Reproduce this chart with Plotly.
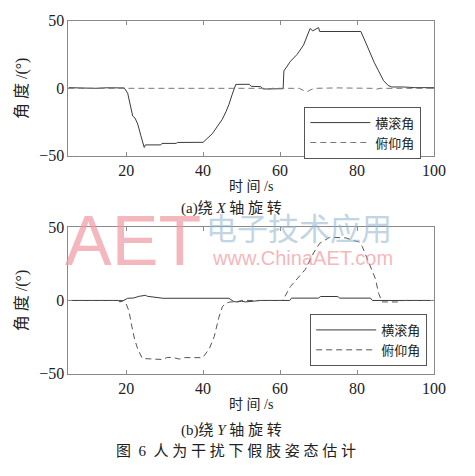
import plotly.graph_objects as go

# ---------------- data ----------------
# (a) rotation about X
t_roll_a = [5, 8, 10, 12, 15, 17, 19.5, 20.4, 21.0, 21.7, 22.3, 23.0, 23.8, 24.7, 25.0, 29.0, 29.3,
            33.0, 33.3, 40.0, 42.4, 43.5, 45.0, 46.0, 46.7, 47.5, 48.5, 52.0, 52.5, 55.0, 55.6, 60.8,
            61.0, 62.7, 64.4, 66.1, 67.4, 67.8, 68.5, 69.2, 70.0, 70.3, 81.0, 82.2, 83.9, 84.5, 85.6,
            86.9, 88.1, 89.0, 92.0, 95.0, 100]
roll_a = [0.5, 0.3, 0.5, 0.0, 0.4, 0.2, 0.3, -3.6, -12.0, -20.5, -22.0, -26.4, -34.8, -43.8, -41.9, -41.9, -40.8,
          -40.8, -40.1, -40.0, -33.6, -29.0, -22.9, -17.0, -12.1, -5.0, 2.9, 3.0, 1.5, 1.2, -0.5, -0.3,
          12.9, 20.0, 25.0, 32.0, 41.4, 44.3, 42.6, 43.5, 45.0, 42.1, 42.1, 34.3, 22.4, 19.0, 12.9,
          5.7, 2.1, 1.0, 1.0, 0.5, 0.5]

t_pitch_a = [5, 20, 40, 50, 56, 57, 58, 60, 65, 66, 67, 68, 69, 75, 84, 85, 86, 90, 100]
pitch_a = [0, 0, 0, 0, 0, -0.7, 0, 0, 0, -1.5, -2.6, -1.0, 0, 0.3, 0, -0.7, 0, 0, 0]

# (b) rotation about Y
t_roll_b = [5, 18, 18.3, 19, 20.4, 22, 23.3, 25, 25.6, 26.5, 29.6, 46.7, 47.5, 48, 49, 50, 51, 55,
            62.5, 63, 70, 70.5, 75, 75.5, 83.5, 84, 100]
roll_b = [0, 0, -1.0, -0.5, 1.5, 1.7, 2.8, 3.5, 2.8, 2.6, 1.5, 1.5, 0, -0.8, -1.0, -0.5, -1.0, 0,
          0, 1.6, 1.6, 2.7, 2.7, 1.6, 1.6, 0, 0]

t_pitch_b = [5, 19.5, 20, 20.7, 21.5, 22.2, 23, 24.2, 29.6, 30.5, 32, 33.8, 35, 39.9, 41.6, 42.9, 44.1,
             45, 45.8, 47, 48.6, 50, 60.5, 61, 62.7, 64.4, 66.6, 68.7, 70.3, 72.9, 77.1, 78.8, 80.5,
             81.4, 83.1, 84.8, 85.6, 86, 86.5, 90.6, 92, 100]
pitch_b = [0, 0, -2.3, -7.0, -18.0, -26.5, -33.0, -39.6, -40.3, -39.0, -38.8, -40.0, -39.0, -39.0, -33.0,
           -24.6, -11.5, -4.3, -2.0, -1.0, -1.0, 0, 0, 1.6, 9.5, 14.7, 21.3, 32.4, 39.0, 43.1, 42.7,
           41.0, 40.0, 36.6, 26.0, 14.7, 4.9, 1.6, -1.0, -1.0, 0, 0]

x_ticks = [20, 40, 60, 80, 100]
y_ticks = [-50, 0, 50]
name_roll = "横滚角"
name_pitch = "俯仰角"

# ---------------- style ----------------
W, H = 475, 476
OFF = 8  # page body margin offsets the figure by 8 px in the photographed page
SERIF = "Liberation Serif, Times New Roman, serif"
CJK = "Liberation Serif, Noto Sans CJK SC, serif"
SOLID = "#3a3a3a"
DASHC = "#777777"
AXC = "#8a8a8a"
NB = "\u00a0"

def px_x(p):
    return (p - OFF) / W

def px_y(p):
    return 1 - (p - OFF) / H

fig = go.Figure()
fig.add_trace(go.Scatter(x=t_roll_a, y=roll_a, mode="lines", name=name_roll,
                         line=dict(color=SOLID, width=1), xaxis="x", yaxis="y", legend="legend"))
fig.add_trace(go.Scatter(x=t_pitch_a, y=pitch_a, mode="lines", name=name_pitch,
                         line=dict(color=DASHC, width=1, dash="6px,4px"), xaxis="x", yaxis="y",
                         legend="legend"))
fig.add_trace(go.Scatter(x=t_roll_b, y=roll_b, mode="lines", name=name_roll,
                         line=dict(color=SOLID, width=1), xaxis="x2", yaxis="y2", legend="legend2"))
fig.add_trace(go.Scatter(x=t_pitch_b, y=pitch_b, mode="lines", name=name_pitch,
                         line=dict(color="#555555", width=1, dash="6px,4px"), xaxis="x2", yaxis="y2",
                         legend="legend2"))

axis_common = dict(
    showgrid=False, zeroline=False, showline=True, linecolor=AXC, linewidth=1, mirror="ticks",
    ticks="inside", ticklen=4, tickcolor=AXC, tickfont=dict(family=SERIF, size=16, color="#222"),
)
ylab = "角" + NB + "度" + NB + "/(°)"
xlab = "时" + NB + "间" + NB + "/s"
xdom = [px_x(70), px_x(445)]
fig.update_layout(
    width=W, height=H, margin=dict(l=0, r=0, t=0, b=0),
    paper_bgcolor="white", plot_bgcolor="white",
    xaxis=dict(domain=xdom, range=[5, 100], tickvals=x_ticks, anchor="y",
               title=dict(text=xlab, font=dict(family=CJK, size=14, color="#222"), standoff=2),
               **axis_common),
    yaxis=dict(domain=[px_y(153), px_y(13)], range=[-50, 50], tickvals=y_ticks, anchor="x",
               title=dict(text=ylab, font=dict(family=CJK, size=16, color="#222"), standoff=7),
               **axis_common),
    xaxis2=dict(domain=xdom, range=[5, 100], tickvals=x_ticks, anchor="y2",
                title=dict(text=xlab, font=dict(family=CJK, size=14, color="#222"), standoff=2),
                **axis_common),
    yaxis2=dict(domain=[px_y(379), px_y(227)], range=[-50, 50], tickvals=y_ticks, anchor="x2",
                title=dict(text=ylab, font=dict(family=CJK, size=16, color="#222"), standoff=7),
                **axis_common),
    legend=dict(x=px_x(312), y=px_y(102), xanchor="left", yanchor="top",
                bordercolor="#555", borderwidth=1, bgcolor="white", itemwidth=60,
                font=dict(family=CJK, size=13, color="#222"), tracegroupgap=0),
    legend2=dict(x=px_x(318), y=px_y(317), xanchor="left", yanchor="top",
                 bordercolor="#555", borderwidth=1, bgcolor="white", itemwidth=60,
                 font=dict(family=CJK, size=13, color="#222"), tracegroupgap=0),
    showlegend=True,
)

def note(text, x, y, size, family=CJK, color="#222", opacity=1.0):
    fig.add_annotation(text=text, x=px_x(x), y=px_y(y), xref="paper", yref="paper",
                       xanchor="center", yanchor="middle", showarrow=False, opacity=opacity,
                       font=dict(family=family, size=size, color=color))

# watermark (behind captions)
note("AET", 136, 241, 70, family="Liberation Sans, Arial", color="#f29aa3", opacity=0.7)
note("电子技术应用", 307, 226, 31, family="Noto Sans CJK SC", color="#8fb3d0", opacity=0.55)
note("www.ChinaAET.com", 310, 259, 20, family="Liberation Sans, Arial", color="#f08890", opacity=0.6)

# captions
note("(a)绕" + NB + "<i>X</i>" + NB + "轴" + NB + "旋" + NB + "转", 237, 208, 15)
note("(b)绕" + NB + "<i>Y</i>" + NB + "轴" + NB + "旋" + NB + "转", 237, 438, 15)
note(NB.join(["图", NB + "6", NB + "人", "为", "干", "扰", "下", "假", "肢", "姿", "态", "估", "计"]),
     242, 459, 15)

fig.write_html("out.html")
